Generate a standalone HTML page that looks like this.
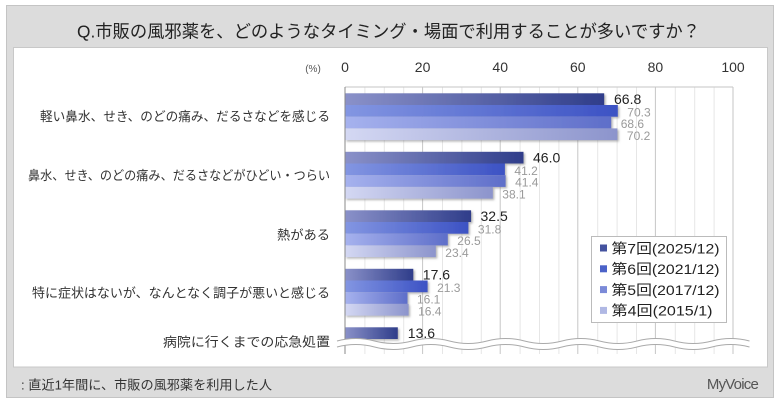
<!DOCTYPE html>
<html><head><meta charset="utf-8">
<style>
html,body{margin:0;padding:0;background:#fff;}
svg{display:block;}
text{font-family:"Liberation Sans","Noto Sans CJK JP",sans-serif;}
</style></head>
<body>
<svg width="780" height="405" viewBox="0 0 780 405" xmlns="http://www.w3.org/2000/svg">
<defs>
<linearGradient id="g1" x1="0" y1="0" x2="1" y2="0"><stop offset="0" stop-color="#8a91c9"/><stop offset="1" stop-color="#2f3d8a"/></linearGradient>
<linearGradient id="g2" x1="0" y1="0" x2="1" y2="0"><stop offset="0" stop-color="#8396e2"/><stop offset="1" stop-color="#3c52c4"/></linearGradient>
<linearGradient id="g3" x1="0" y1="0" x2="1" y2="0"><stop offset="0" stop-color="#a6b2ee"/><stop offset="1" stop-color="#5e6ec9"/></linearGradient>
<linearGradient id="g4" x1="0" y1="0" x2="1" y2="0"><stop offset="0" stop-color="#d4d8f3"/><stop offset="1" stop-color="#8c94cc"/></linearGradient>
<filter id="sh" x="-5%" y="-30%" width="110%" height="180%"><feDropShadow dx="1.5" dy="1.5" stdDeviation="1" flood-color="#777" flood-opacity="0.55"/></filter>
</defs>

<!-- frame -->
<rect x="6.5" y="5.5" width="767" height="392" fill="#dcdcdc" stroke="#c4c4c4"/>
<rect x="13.5" y="47.5" width="754" height="319.5" fill="#fff" stroke="#c8c8c8"/>

<text x="77" y="37.5" font-size="17.5" fill="#222" textLength="623" lengthAdjust="spacingAndGlyphs">Q.市販の風邪薬を、どのようなタイミング・場面で利用することが多いですか？</text>

<!-- axis labels -->
<text x="313" y="72" font-size="10" fill="#555" text-anchor="middle">(%)</text>
<g font-size="14" fill="#333" text-anchor="middle">
<text x="345" y="72">0</text>
<text x="422.6" y="72">20</text>
<text x="500.2" y="72">40</text>
<text x="577.8" y="72">60</text>
<text x="655.4" y="72">80</text>
<text x="733" y="72">100</text>
</g>

<!-- minor grid -->
<g stroke="#e6e6e6" stroke-width="1">
<line x1="364.9" y1="87" x2="364.9" y2="354"/><line x1="384.3" y1="87" x2="384.3" y2="354"/><line x1="403.7" y1="87" x2="403.7" y2="354"/>
<line x1="442.5" y1="87" x2="442.5" y2="354"/><line x1="461.9" y1="87" x2="461.9" y2="354"/><line x1="481.3" y1="87" x2="481.3" y2="354"/>
<line x1="520.1" y1="87" x2="520.1" y2="354"/><line x1="539.5" y1="87" x2="539.5" y2="354"/><line x1="558.9" y1="87" x2="558.9" y2="354"/>
<line x1="597.7" y1="87" x2="597.7" y2="354"/><line x1="617.1" y1="87" x2="617.1" y2="354"/><line x1="636.5" y1="87" x2="636.5" y2="354"/>
<line x1="675.3" y1="87" x2="675.3" y2="354"/><line x1="694.7" y1="87" x2="694.7" y2="354"/><line x1="714.1" y1="87" x2="714.1" y2="354"/>
</g>
<g stroke="#c6c6c6" stroke-width="1">
<line x1="422.6" y1="87" x2="422.6" y2="354"/><line x1="500.2" y1="87" x2="500.2" y2="354"/>
<line x1="577.8" y1="87" x2="577.8" y2="354"/><line x1="655.4" y1="87" x2="655.4" y2="354"/>
<line x1="733" y1="87" x2="733" y2="354"/>
<line x1="345" y1="87" x2="733" y2="87"/>
</g>

<!-- bars -->
<g filter="url(#sh)">
<rect x="345" y="93.3" width="259.2" height="11.7" fill="url(#g1)"/>
<rect x="345" y="105" width="272.8" height="11.7" fill="url(#g2)"/>
<rect x="345" y="116.7" width="266.2" height="11.7" fill="url(#g3)"/>
<rect x="345" y="128.4" width="272.4" height="11.7" fill="url(#g4)"/>

<rect x="345" y="151.8" width="178.5" height="11.7" fill="url(#g1)"/>
<rect x="345" y="163.5" width="159.9" height="11.7" fill="url(#g2)"/>
<rect x="345" y="175.2" width="160.6" height="11.7" fill="url(#g3)"/>
<rect x="345" y="186.9" width="147.8" height="11.7" fill="url(#g4)"/>

<rect x="345" y="210.3" width="126.1" height="11.7" fill="url(#g1)"/>
<rect x="345" y="222" width="123.4" height="11.7" fill="url(#g2)"/>
<rect x="345" y="233.7" width="102.8" height="11.7" fill="url(#g3)"/>
<rect x="345" y="245.4" width="90.8" height="11.7" fill="url(#g4)"/>

<rect x="345" y="268.8" width="68.3" height="11.7" fill="url(#g1)"/>
<rect x="345" y="280.5" width="82.6" height="11.7" fill="url(#g2)"/>
<rect x="345" y="292.2" width="62.5" height="11.7" fill="url(#g3)"/>
<rect x="345" y="303.9" width="63.6" height="11.7" fill="url(#g4)"/>

<rect x="345" y="327.3" width="52.8" height="11.7" fill="url(#g1)"/>
</g>

<line x1="345" y1="87" x2="345" y2="354" stroke="#888" stroke-width="1"/>

<!-- value labels -->
<g font-size="14" fill="#222">
<text x="614" y="104">66.8</text>
<text x="533" y="162.5">46.0</text>
<text x="480.5" y="221">32.5</text>
<text x="422.8" y="279.5">17.6</text>
<text x="407.8" y="338">13.6</text>
</g>
<g font-size="12" fill="#9a9a9a">
<text x="627.3" y="116.5">70.3</text>
<text x="620.7" y="128.2">68.6</text>
<text x="626.9" y="139.9">70.2</text>
<text x="514.4" y="175">41.2</text>
<text x="515.1" y="186.7">41.4</text>
<text x="502.3" y="198.4">38.1</text>
<text x="477.9" y="233.5">31.8</text>
<text x="457.3" y="245.2">26.5</text>
<text x="445.3" y="256.9">23.4</text>
<text x="437.1" y="292">21.3</text>
<text x="417" y="303.7">16.1</text>
<text x="418.1" y="315.4">16.4</text>
</g>

<!-- wave break -->
<path d="M337,344 q18.75,-5 37.5,0 t37.5,0 t37.5,0 t37.5,0 t37.5,0 t37.5,0 t37.5,0 t37.5,0 t37.5,0 t37.5,0 t37.5,0" fill="none" stroke="#fff" stroke-width="6"/>
<path d="M337,341 q18.75,-5 37.5,0 t37.5,0 t37.5,0 t37.5,0 t37.5,0 t37.5,0 t37.5,0 t37.5,0 t37.5,0 t37.5,0 t37.5,0" fill="none" stroke="#aaa" stroke-width="1"/>
<path d="M337,347 q18.75,-5 37.5,0 t37.5,0 t37.5,0 t37.5,0 t37.5,0 t37.5,0 t37.5,0 t37.5,0 t37.5,0 t37.5,0 t37.5,0" fill="none" stroke="#aaa" stroke-width="1"/>

<!-- category labels -->
<g font-size="13" fill="#333" text-anchor="end">
<text x="330" y="121" textLength="290" lengthAdjust="spacingAndGlyphs">軽い鼻水、せき、のどの痛み、だるさなどを感じる</text>
<text x="330" y="180" textLength="302" lengthAdjust="spacingAndGlyphs">鼻水、せき、のどの痛み、だるさなどがひどい・つらい</text>
<text x="330" y="239.5" textLength="53" lengthAdjust="spacingAndGlyphs">熱がある</text>
<text x="330" y="297.5" textLength="298" lengthAdjust="spacingAndGlyphs">特に症状はないが、なんとなく調子が悪いと感じる</text>
<text x="330" y="346.5" textLength="167" lengthAdjust="spacingAndGlyphs">病院に行くまでの応急処置</text>
</g>

<!-- legend -->
<rect x="591.5" y="236.5" width="135" height="86" fill="#fff" stroke="#bbb"/>
<rect x="600" y="244.5" width="7" height="7" fill="#44539f"/>
<rect x="600" y="265.3" width="7" height="7" fill="#4b62c8"/>
<rect x="600" y="286.1" width="7" height="7" fill="#7b8ad8"/>
<rect x="600" y="306.9" width="7" height="7" fill="#b0b8e4"/>
<g font-size="14" fill="#222">
<text x="611.5" y="253.3" textLength="108" lengthAdjust="spacingAndGlyphs">第7回(2025/12)</text>
<text x="611.5" y="274.1" textLength="108" lengthAdjust="spacingAndGlyphs">第6回(2021/12)</text>
<text x="611.5" y="294.9" textLength="108" lengthAdjust="spacingAndGlyphs">第5回(2017/12)</text>
<text x="611.5" y="315.7" textLength="101" lengthAdjust="spacingAndGlyphs">第4回(2015/1)</text>
</g>

<!-- footer -->
<text x="21" y="389.5" font-size="13" fill="#333" textLength="251" lengthAdjust="spacingAndGlyphs">: 直近1年間に、市販の風邪薬を利用した人</text>
<text x="758" y="389" font-size="15" fill="#555" text-anchor="end" letter-spacing="-0.8" style="font-family:'Liberation Sans',sans-serif">MyVoice</text>
</svg>
</body></html>
